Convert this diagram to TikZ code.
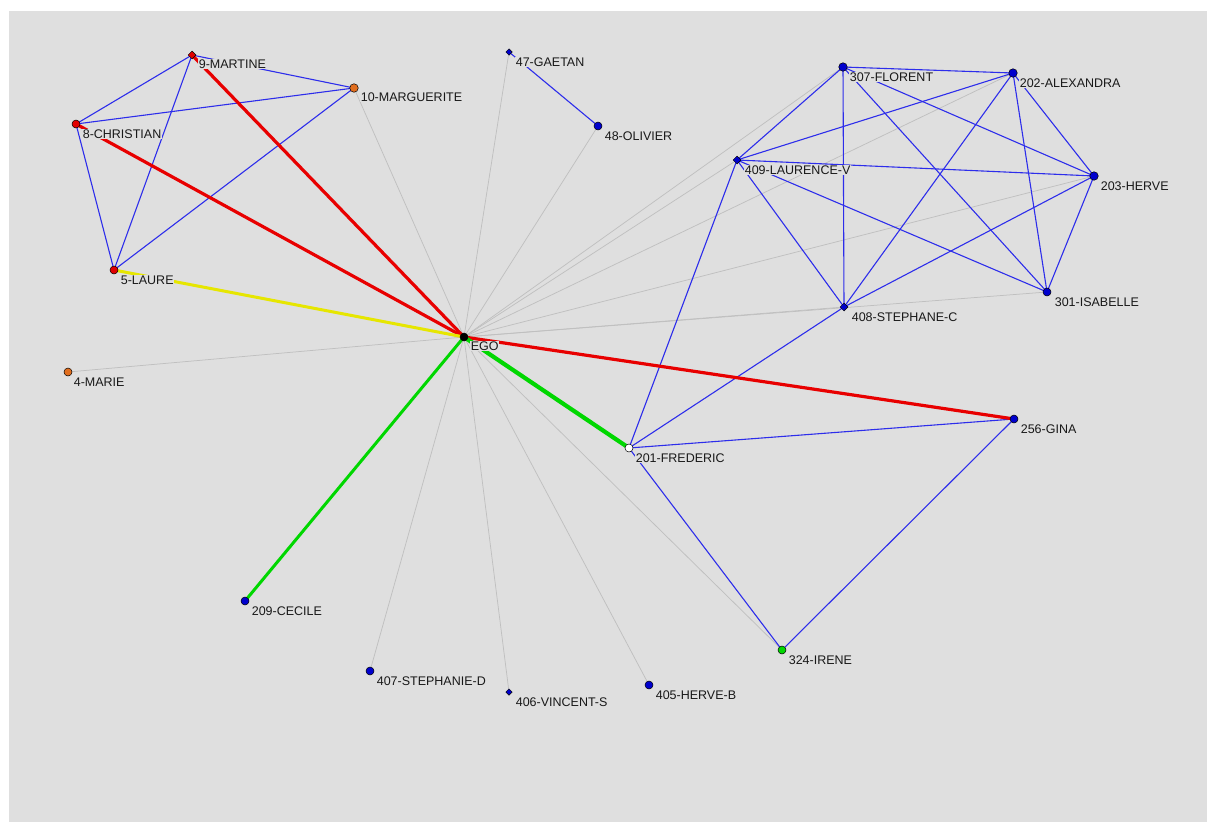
\documentclass[tikz,border=0pt]{standalone}
\usepackage{fontspec}
\setmainfont{Liberation Sans}
\usetikzlibrary{shapes.geometric, backgrounds}

\definecolor{bg}{RGB}{223,223,223}
\definecolor{txt}{RGB}{25,25,25}
\definecolor{tieblue}{RGB}{45,45,235}
\definecolor{spokegray}{RGB}{192,192,192}
\definecolor{nodeblue}{RGB}{0,0,205}
\definecolor{nodered}{RGB}{225,0,0}
\definecolor{nodeorange}{RGB}{225,110,30}
\definecolor{nodegreen}{RGB}{0,215,0}
\definecolor{linkred}{RGB}{232,0,0}
\definecolor{linkyellow}{RGB}{230,230,0}
\definecolor{linkgreen}{RGB}{0,215,0}

\begin{document}
\begin{tikzpicture}[x=1pt, y=-1pt, every node/.style={font=\fontsize{12.5}{14}\selectfont}]
    \tikzstyle{dot}=[circle, draw=black, line width=0.5pt, inner sep=0pt, minimum size=8pt]
    \tikzstyle{pip}=[diamond, draw=black, line width=0.5pt, inner sep=0pt, minimum size=8pt]
    \tikzstyle{lbl}=[anchor=west, fill=bg, inner sep=0.6pt, text=txt]
    \tikzstyle{tie}=[line width=1.1pt, draw=tieblue]
    \tikzstyle{spoke}=[line width=0.75pt, draw=spokegray]

    \useasboundingbox (0,0) rectangle (1207,822);

    % ego
    \node[dot, fill=black] (ego) at (464,337) {};
    \node[lbl] (egoT) at (470,346) {EGO};

    % left group
    \node[pip, fill=nodered] (martine) at (192,55) {};
    \node[dot, fill=nodeorange, minimum size=8.5pt] (marguerite) at (354,88) {};
    \node[dot, fill=nodered] (christian) at (76,124) {};
    \node[dot, fill=nodered] (laure) at (114,270) {};
    \node[dot, fill=nodeorange] (marie) at (68,372) {};
    \node[lbl] (martineT) at (198,64) {9-MARTINE};
    \node[lbl] (margueriteT) at (360,97) {10-MARGUERITE};
    \node[lbl] (christianT) at (82,134) {8-CHRISTIAN};
    \node[lbl] (laureT) at (120,280) {5-LAURE};
    \node[lbl] (marieT) at (73,382) {4-MARIE};

    % top middle
    \node[pip, fill=nodeblue, minimum size=6.5pt] (gaetan) at (509,52) {};
    \node[dot, fill=nodeblue] (olivier) at (598,126) {};
    \node[lbl] (gaetanT) at (515,62) {47-GAETAN};
    \node[lbl] (olivierT) at (604,136) {48-OLIVIER};

    % right group
    \node[dot, fill=nodeblue, minimum size=8.5pt] (florent) at (843,67) {};
    \node[dot, fill=nodeblue, minimum size=8.5pt] (alexandra) at (1013,73) {};
    \node[pip, fill=nodeblue] (laurence) at (737,160) {};
    \node[dot, fill=nodeblue, minimum size=8.5pt] (herve) at (1094,176) {};
    \node[dot, fill=nodeblue] (isabelle) at (1047,292) {};
    \node[pip, fill=nodeblue] (stephanec) at (844,307) {};
    \node[dot, fill=nodeblue] (gina) at (1014,419) {};
    \node[dot, fill=white] (frederic) at (629,448) {};
    \node[dot, fill=nodegreen] (irene) at (782,650) {};
    \node[lbl] (florentT) at (849,77) {307-FLORENT};
    \node[lbl] (alexandraT) at (1019,83) {202-ALEXANDRA};
    \node[lbl] (laurenceT) at (744,170) {409-LAURENCE-V};
    \node[lbl] (herveT) at (1100,186) {203-HERVE};
    \node[lbl] (isabelleT) at (1054,302) {301-ISABELLE};
    \node[lbl] (stephanecT) at (851,317) {408-STEPHANE-C};
    \node[lbl] (ginaT) at (1020,429) {256-GINA};
    \node[lbl] (fredericT) at (635,458) {201-FREDERIC};
    \node[lbl] (ireneT) at (788,660) {324-IRENE};

    % bottom
    \node[dot, fill=nodeblue] (cecile) at (245,601) {};
    \node[dot, fill=nodeblue] (stephanied) at (370,671) {};
    \node[pip, fill=nodeblue, minimum size=6.5pt] (vincent) at (509,692) {};
    \node[dot, fill=nodeblue] (herveb) at (649,685) {};
    \node[lbl] (cecileT) at (251,611) {209-CECILE};
    \node[lbl] (stephaniedT) at (376,681) {407-STEPHANIE-D};
    \node[lbl] (vincentT) at (515,702) {406-VINCENT-S};
    \node[lbl] (hervebT) at (655,695) {405-HERVE-B};

    \begin{pgfonlayer}{background}
        \fill[white] (0,0) rectangle (1207,822);
        \fill[bg] (9,11) rectangle (1207,822);

        % thin grey spokes
        \foreach \alter in {marguerite, marie, gaetan, olivier, laurence, florent, alexandra, herve, isabelle, stephanec, irene, stephanied, vincent, herveb}
            \draw[spoke] (ego.center) -- (\alter.center);

        % blue ties
        \draw[tie] (martine.center) -- (christian.center);
        \draw[tie] (martine.center) -- (marguerite.center);
        \draw[tie] (martine.center) -- (laure.center);
        \draw[tie] (christian.center) -- (marguerite.center);
        \draw[tie] (christian.center) -- (laure.center);
        \draw[tie] (marguerite.center) -- (laure.center);
        \draw[tie] (gaetan.center) -- (olivier.center);
        \draw[tie] (florent.center) -- (alexandra.center);
        \draw[tie] (florent.center) -- (laurence.center);
        \draw[tie] (florent.center) -- (stephanec.center);
        \draw[tie] (florent.center) -- (herve.center);
        \draw[tie] (florent.center) -- (isabelle.center);
        \draw[tie] (alexandra.center) -- (laurence.center);
        \draw[tie] (alexandra.center) -- (stephanec.center);
        \draw[tie] (alexandra.center) -- (herve.center);
        \draw[tie] (alexandra.center) -- (isabelle.center);
        \draw[tie] (laurence.center) -- (herve.center);
        \draw[tie] (laurence.center) -- (stephanec.center);
        \draw[tie] (laurence.center) -- (isabelle.center);
        \draw[tie] (laurence.center) -- (frederic.center);
        \draw[tie] (herve.center) -- (stephanec.center);
        \draw[tie] (herve.center) -- (isabelle.center);
        \draw[tie] (stephanec.center) -- (frederic.center);
        \draw[tie] (frederic.center) -- (gina.center);
        \draw[tie] (frederic.center) -- (irene.center);
        \draw[tie] (gina.center) -- (irene.center);

        % strong ties of ego
        \draw[line width=3.2pt, linkred] (ego.center) -- (martine.center);
        \draw[line width=3.2pt, linkred] (ego.center) -- (christian.center);
        \draw[line width=3.2pt, linkred] (ego.center) -- (gina.center);
        \draw[line width=3pt, linkyellow] (ego.center) -- (laure.center);
        \draw[line width=3pt, linkgreen] (ego.center) -- (cecile.center);
        \draw[line width=4.2pt, linkgreen] (ego.center) -- (frederic.center);
    \end{pgfonlayer}
\end{tikzpicture}
\end{document}
